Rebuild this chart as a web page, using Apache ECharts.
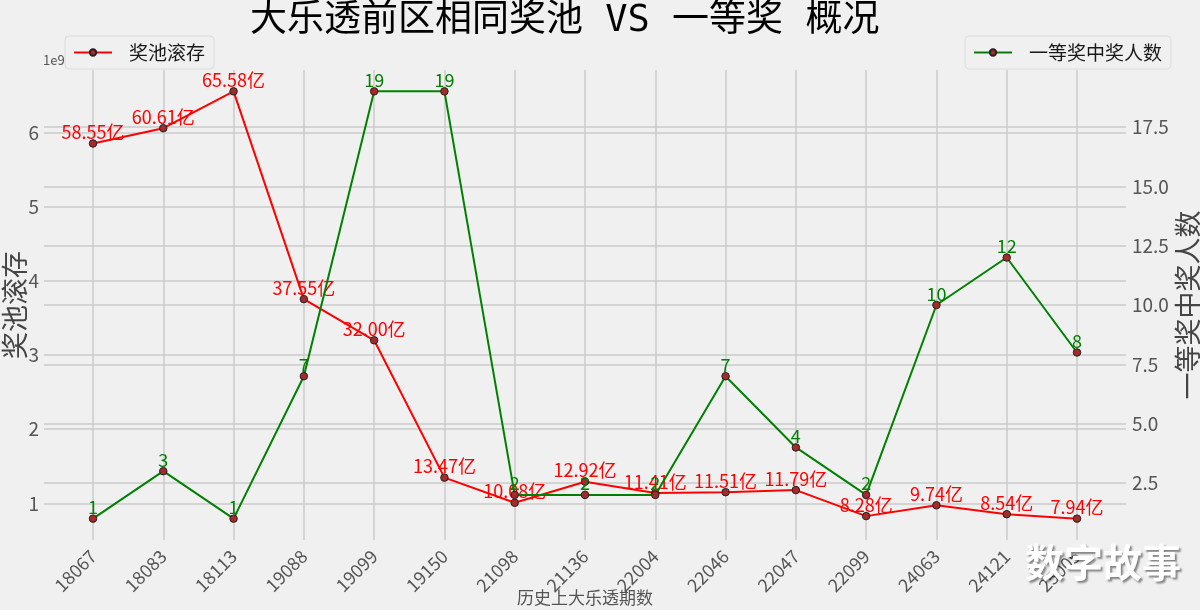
<!DOCTYPE html>
<html><head><meta charset="utf-8">
<script src="https://cdn.jsdelivr.net/npm/echarts@6/dist/echarts.min.js"></script>
<style>html,body{margin:0;padding:0;background:#f0f0f0}#c{width:1200px;height:610px}</style>
</head><body><div id="c"></div>
<script>
// ---- data ----
const periods = ['18067','18083','18113','19088','19099','19150','21098','21136','22004','22046','22047','22099','24063','24121','25005'];
const poolYi = [58.55,60.61,65.58,37.55,32.00,13.47,10.08,12.92,11.41,11.51,11.79,8.28,9.74,8.54,7.94]; // 亿
const winners = [1,3,1,7,19,19,2,2,2,7,4,2,10,12,8];
const leftTickRange = [0, 7];    // 1e9 units, tick step 1
const rightTickRange = [0, 20];  // tick step 2.5

// ---- layout ----
const FONT = "'Noto Sans CJK SC','Noto Sans',sans-serif";
const TITLE_FONT = "'DejaVu Sans Mono','Noto Sans CJK SC',sans-serif";
const T = 70, B = 540;
const pool = poolYi.map(v => v / 10); // 1e9 units
const pMin = Math.min(...pool), pMax = Math.max(...pool);
const pLo = pMin - 0.05 * (pMax - pMin), pHi = pMax + 0.05 * (pMax - pMin);
const wMin = Math.min(...winners), wMax = Math.max(...winners);
const wLo = wMin - 0.05 * (wMax - wMin), wHi = wMax + 0.05 * (wMax - wMin);
function pix(v, lo, hi) { return T + (hi - v) / (hi - lo) * (B - T); }
const lTop = pix(leftTickRange[1], pLo, pHi), lBot = pix(leftTickRange[0], pLo, pHi);
const rTop = pix(rightTickRange[1], wLo, wHi), rBot = pix(rightTickRange[0], wLo, wHi);

const gridLine = { color: '#cbcbcb', width: 1.5 };
const legendCommon = {
  top: 36, padding: [7, 9, 7, 8], itemWidth: 38, itemHeight: 8,
  borderColor: '#dcdcdc', borderWidth: 1, borderRadius: 4,
  textStyle: { fontFamily: FONT, fontSize: 19, lineHeight: 19, color: '#1a1a1a', padding: [0, 0, 0, 12] }
};
const chart = echarts.init(document.getElementById('c'));
chart.setOption({
  animation: false,
  backgroundColor: '#f0f0f0',
  textStyle: { fontFamily: FONT },
  title: {
    text: '大乐透前区相同奖池 VS 一等奖 概况',
    left: 250, top: 2, padding: 0,
    textStyle: { fontFamily: TITLE_FONT, fontSize: 37, lineHeight: 39, fontWeight: 'normal', color: '#000' }
  },
  legend: [
    Object.assign({ data: ['奖池滚存'], left: 65 }, legendCommon),
    Object.assign({ data: ['一等奖中奖人数'], left: 965 }, legendCommon)
  ],
  grid: [
    { left: 93, right: 123, top: T, height: B - T, outerBoundsMode: 'none' },
    { left: 44, right: 74, top: lTop, height: lBot - lTop, outerBoundsMode: 'none' },
    { left: 44, right: 74, top: rTop, height: rBot - rTop, outerBoundsMode: 'none' }
  ],
  xAxis: [
    {
      gridIndex: 0, type: 'category', data: periods, boundaryGap: false,
      axisLine: { show: false }, axisTick: { show: false },
      axisLabel: { rotate: 45, margin: 13, fontSize: 18, color: '#555', fontFamily: FONT },
      splitLine: { show: true, lineStyle: gridLine },
      name: '历史上大乐透期数', nameLocation: 'middle', nameGap: 49, nameMoveOverlap: false,
      nameTextStyle: { fontSize: 17, color: '#555', fontFamily: FONT }
    },
    { gridIndex: 1, type: 'value', show: false, min: 0, max: 1 },
    { gridIndex: 2, type: 'value', show: false, min: 0, max: 1 }
  ],
  yAxis: [
    {
      gridIndex: 0, type: 'value', min: pLo, max: pHi, position: 'left',
      axisLine: { show: false }, axisTick: { show: false }, axisLabel: { show: false }, splitLine: { show: false },
      name: '奖池滚存', nameLocation: 'middle', nameRotate: 90, nameGap: 65, nameMoveOverlap: false,
      nameTextStyle: { fontSize: 27, color: '#444', fontFamily: FONT }
    },
    {
      gridIndex: 0, type: 'value', min: wLo, max: wHi, position: 'right',
      axisLine: { show: false }, axisTick: { show: false }, axisLabel: { show: false }, splitLine: { show: false },
      name: '一等奖中奖人数', nameLocation: 'middle', nameRotate: 90, nameGap: 97, nameMoveOverlap: false,
      nameTextStyle: { fontSize: 27, color: '#444', fontFamily: FONT }
    },
    {
      gridIndex: 1, type: 'value', position: 'left',
      min: leftTickRange[0], max: leftTickRange[1], interval: 1,
      axisLine: { show: false }, axisTick: { show: false },
      axisLabel: { showMinLabel: false, showMaxLabel: false, margin: 5, fontSize: 19, color: '#555', fontFamily: FONT },
      splitLine: { show: true, showMinLine: false, showMaxLine: false, lineStyle: gridLine }
    },
    {
      gridIndex: 2, type: 'value', position: 'right',
      min: rightTickRange[0], max: rightTickRange[1], interval: 2.5,
      axisLine: { show: false }, axisTick: { show: false },
      axisLabel: { showMinLabel: false, showMaxLabel: false, margin: 6, fontSize: 19, color: '#555', fontFamily: FONT,
        formatter: v => v.toFixed(1) },
      splitLine: { show: true, showMinLine: false, showMaxLine: false, lineStyle: gridLine }
    }
  ],
  series: [
    {
      name: '奖池滚存', type: 'line', xAxisIndex: 0, yAxisIndex: 0, data: pool, z: 2,
      symbol: 'circle', symbolSize: 7.5,
      lineStyle: { color: '#ff0000', width: 2 },
      itemStyle: { color: '#a52a2a', borderColor: '#222', borderWidth: 1 },
      label: {
        show: true, position: 'top', distance: -2, fontSize: 18, color: '#ff0000', fontFamily: FONT,
        textBorderWidth: 0, formatter: p => poolYi[p.dataIndex].toFixed(2) + '亿'
      },
      emphasis: { disabled: true }
    },
    {
      name: '一等奖中奖人数', type: 'line', xAxisIndex: 0, yAxisIndex: 1, data: winners, z: 3,
      symbol: 'circle', symbolSize: 7.5,
      lineStyle: { color: '#008000', width: 2 },
      itemStyle: { color: '#a52a2a', borderColor: '#222', borderWidth: 1 },
      label: {
        show: true, position: 'top', distance: -2, fontSize: 18, color: '#008000', fontFamily: FONT,
        textBorderWidth: 0
      },
      emphasis: { disabled: true }
    }
  ],
  graphic: [
    { type: 'text', left: 43, top: 54, style: { text: '1e9', fontSize: 13, fill: '#555', fontFamily: FONT } },
    { type: 'text', left: 1025, top: 543, z: 100,
      style: { text: '数字故事', fontSize: 39, fontWeight: 'bold', fill: '#ffffff', fontFamily: FONT,
        textShadowColor: 'rgba(0,0,0,0.45)', textShadowBlur: 2, textShadowOffsetX: 2, textShadowOffsetY: 2 } }
  ]
});
</script></body></html>
